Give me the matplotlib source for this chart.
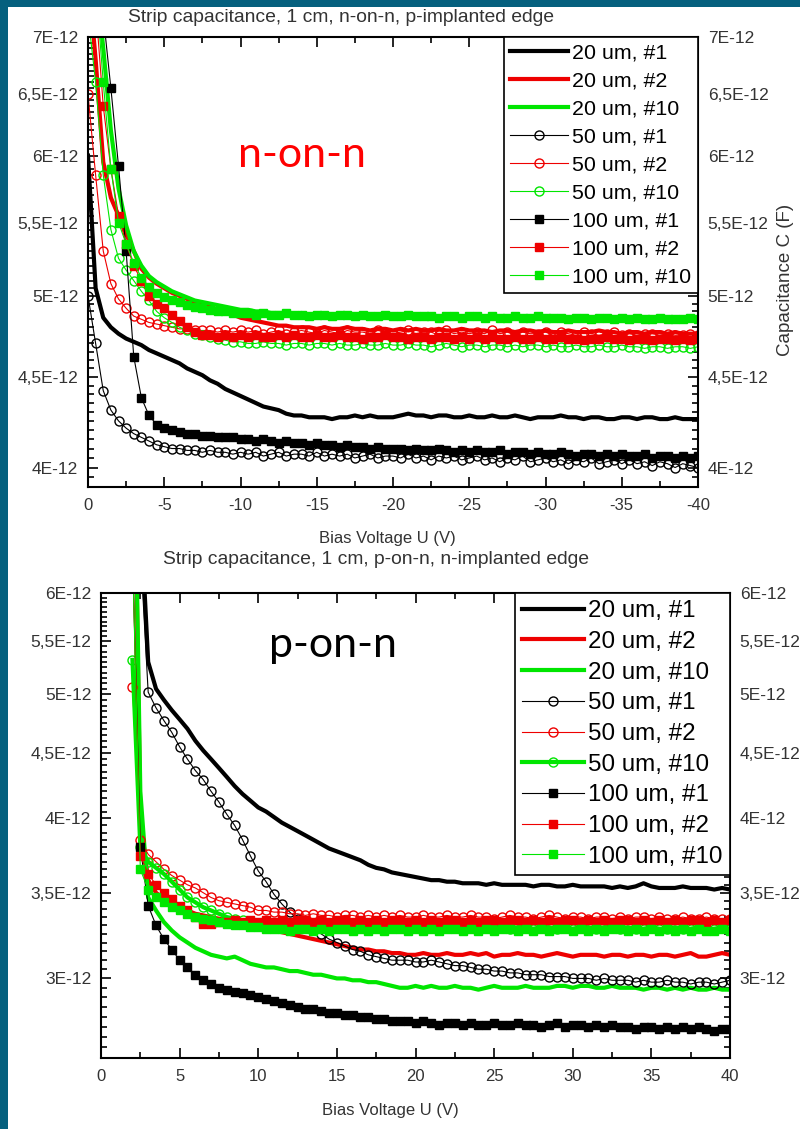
import numpy as np
import matplotlib.pyplot as plt
from matplotlib.patches import Rectangle
from matplotlib.ticker import FixedLocator, FuncFormatter, MultipleLocator

plt.rcParams['font.family'] = ['Liberation Sans', 'DejaVu Sans']
plt.rcParams['axes.unicode_minus'] = False

# bias sweep (V), 0.5 V step
bias_nn = np.arange(0, -40.5, -0.5)
bias_pn = np.arange(2, 40.5, 0.5)

labels = ["20 um, #1", "20 um, #2", "20 um, #10",
          "50 um, #1", "50 um, #2", "50 um, #10",
          "100 um, #1", "100 um, #2", "100 um, #10"]

# n-on-n, p-implanted edge, capacitance in pF
nn_20_1 = [6.00, 5.05, 4.86, 4.80, 4.76, 4.73, 4.71, 4.69, 4.66, 4.64, 4.62,
           4.60, 4.58, 4.55, 4.53, 4.51, 4.48, 4.46, 4.43, 4.41, 4.39,
           4.37, 4.35, 4.33, 4.32, 4.31, 4.29, 4.28, 4.28, 4.27, 4.27,
           4.27, 4.26, 4.27, 4.27, 4.28, 4.27, 4.28, 4.27, 4.27, 4.27,
           4.28, 4.29, 4.28, 4.28, 4.27, 4.28, 4.28, 4.27, 4.27, 4.28,
           4.27, 4.27, 4.28, 4.27, 4.27, 4.28, 4.27, 4.26, 4.27, 4.27,
           4.27, 4.28, 4.27, 4.27, 4.26, 4.27, 4.27, 4.26, 4.26, 4.27,
           4.27, 4.26, 4.27, 4.27, 4.26, 4.26, 4.27, 4.26, 4.26, 4.26]
nn_20_2 = [7.60, 6.80, 5.95, 5.68, 5.55, 5.42, 5.30, 5.18, 5.12, 5.08, 5.05,
           5.02, 5.00, 4.98, 4.96, 4.95, 4.93, 4.91, 4.89, 4.88, 4.86,
           4.85, 4.84, 4.83, 4.82, 4.81, 4.81, 4.80, 4.80, 4.80, 4.79,
           4.80, 4.79, 4.79, 4.80, 4.79, 4.79, 4.78, 4.79, 4.79, 4.78,
           4.79, 4.78, 4.79, 4.78, 4.78, 4.79, 4.78, 4.78, 4.79, 4.78,
           4.78, 4.78, 4.77, 4.78, 4.78, 4.77, 4.78, 4.78, 4.77, 4.78,
           4.77, 4.77, 4.78, 4.77, 4.77, 4.77, 4.78, 4.77, 4.77, 4.76,
           4.77, 4.77, 4.76, 4.77, 4.77, 4.76, 4.77, 4.76, 4.76, 4.76]
nn_20_10 = [8.50, 7.60, 6.90, 6.20, 5.75, 5.48, 5.30, 5.20, 5.13, 5.09, 5.06,
            5.03, 5.01, 4.99, 4.97, 4.96, 4.95, 4.94, 4.93, 4.92, 4.91,
            4.91, 4.90, 4.90, 4.89, 4.89, 4.89, 4.88, 4.89, 4.88, 4.88,
            4.88, 4.88, 4.87, 4.88, 4.88, 4.87, 4.88, 4.87, 4.87, 4.88,
            4.87, 4.87, 4.88, 4.87, 4.87, 4.87, 4.86, 4.87, 4.87, 4.86,
            4.87, 4.86, 4.86, 4.87, 4.86, 4.86, 4.86, 4.87, 4.86, 4.86,
            4.86, 4.85, 4.86, 4.86, 4.85, 4.86, 4.86, 4.85, 4.85, 4.86,
            4.85, 4.85, 4.86, 4.85, 4.85, 4.85, 4.86, 4.85, 4.85, 4.85]
nn_50_1 = [5.00, 4.70, 4.42, 4.31, 4.25, 4.21, 4.18, 4.16, 4.14, 4.12, 4.11,
           4.10, 4.10, 4.09, 4.09, 4.08, 4.09, 4.08, 4.08, 4.07, 4.08,
           4.07, 4.08, 4.06, 4.07, 4.08, 4.06, 4.07, 4.07, 4.06, 4.08,
           4.06, 4.07, 4.06, 4.07, 4.05, 4.06, 4.07, 4.05, 4.06, 4.06,
           4.05, 4.07, 4.05, 4.06, 4.04, 4.06, 4.05, 4.06, 4.04, 4.05,
           4.06, 4.04, 4.05, 4.03, 4.05, 4.04, 4.06, 4.03, 4.04, 4.05,
           4.03, 4.04, 4.02, 4.04, 4.03, 4.05, 4.02, 4.03, 4.04, 4.02,
           4.04, 4.02, 4.03, 4.01, 4.03, 4.02, 4.00, 4.02, 4.01, 4.00]
nn_50_2 = [6.50, 5.85, 5.30, 5.08, 4.98, 4.92, 4.87, 4.85, 4.83, 4.82, 4.81,
           4.80, 4.79, 4.79, 4.78, 4.78, 4.78, 4.77, 4.78, 4.77, 4.78,
           4.77, 4.78, 4.76, 4.77, 4.78, 4.76, 4.77, 4.78, 4.77, 4.76,
           4.78, 4.77, 4.76, 4.78, 4.77, 4.77, 4.76, 4.78, 4.77, 4.76,
           4.77, 4.78, 4.76, 4.77, 4.77, 4.75, 4.78, 4.76, 4.77, 4.76,
           4.77, 4.76, 4.78, 4.76, 4.77, 4.75, 4.77, 4.76, 4.76, 4.77,
           4.75, 4.77, 4.76, 4.75, 4.77, 4.76, 4.75, 4.76, 4.77, 4.75,
           4.76, 4.75, 4.76, 4.76, 4.75, 4.76, 4.75, 4.75, 4.76, 4.75]
nn_50_10 = [7.20, 6.60, 5.85, 5.45, 5.25, 5.17, 5.10, 5.03, 4.97, 4.90, 4.86,
            4.83, 4.80, 4.78, 4.76, 4.75, 4.74, 4.73, 4.72, 4.71, 4.71,
            4.70, 4.70, 4.71, 4.70, 4.70, 4.69, 4.70, 4.70, 4.69, 4.70,
            4.70, 4.69, 4.70, 4.69, 4.69, 4.70, 4.69, 4.69, 4.70, 4.69,
            4.69, 4.70, 4.69, 4.69, 4.68, 4.69, 4.70, 4.69, 4.68, 4.69,
            4.69, 4.68, 4.69, 4.69, 4.68, 4.69, 4.68, 4.69, 4.69, 4.68,
            4.69, 4.68, 4.68, 4.69, 4.68, 4.68, 4.69, 4.68, 4.68, 4.69,
            4.68, 4.68, 4.67, 4.68, 4.68, 4.67, 4.68, 4.68, 4.67, 4.68]
nn_100_1 = [9.50, 8.30, 7.20, 6.55, 5.92, 5.30, 4.62, 4.38, 4.28, 4.23, 4.21,
            4.20, 4.19, 4.18, 4.18, 4.17, 4.17, 4.16, 4.16, 4.16, 4.15,
            4.15, 4.14, 4.15, 4.14, 4.13, 4.14, 4.13, 4.13, 4.12, 4.13,
            4.12, 4.12, 4.11, 4.12, 4.11, 4.11, 4.10, 4.11, 4.10, 4.10,
            4.10, 4.09, 4.10, 4.09, 4.09, 4.10, 4.09, 4.08, 4.09, 4.08,
            4.09, 4.08, 4.08, 4.09, 4.07, 4.08, 4.08, 4.07, 4.08, 4.07,
            4.07, 4.08, 4.07, 4.06, 4.07, 4.07, 4.06, 4.07, 4.06, 4.07,
            4.06, 4.06, 4.07, 4.05, 4.06, 4.06, 4.05, 4.06, 4.05, 4.06]
nn_100_2 = [8.00, 7.30, 6.40, 5.90, 5.55, 5.35, 5.20, 5.10, 5.00, 4.95, 4.92,
            4.88, 4.84, 4.80, 4.77, 4.75, 4.75, 4.74, 4.75, 4.74, 4.75,
            4.74, 4.75, 4.74, 4.74, 4.75, 4.74, 4.75, 4.74, 4.74, 4.75,
            4.74, 4.74, 4.75, 4.74, 4.74, 4.73, 4.74, 4.74, 4.75, 4.74,
            4.74, 4.73, 4.74, 4.74, 4.73, 4.74, 4.74, 4.73, 4.74, 4.73,
            4.74, 4.73, 4.74, 4.73, 4.73, 4.74, 4.73, 4.73, 4.74, 4.73,
            4.73, 4.74, 4.73, 4.73, 4.72, 4.73, 4.73, 4.74, 4.73, 4.73,
            4.72, 4.73, 4.73, 4.72, 4.73, 4.73, 4.72, 4.73, 4.72, 4.73]
nn_100_10 = [8.50, 7.50, 6.60, 5.90, 5.50, 5.35, 5.22, 5.12, 5.06, 5.02, 4.99,
             4.97, 4.96, 4.94, 4.93, 4.92, 4.91, 4.90, 4.90, 4.89, 4.89,
             4.89, 4.88, 4.89, 4.88, 4.88, 4.89, 4.88, 4.88, 4.87, 4.88,
             4.88, 4.87, 4.88, 4.88, 4.87, 4.88, 4.87, 4.87, 4.88, 4.87,
             4.87, 4.88, 4.87, 4.87, 4.87, 4.86, 4.87, 4.87, 4.86, 4.87,
             4.87, 4.86, 4.87, 4.86, 4.86, 4.87, 4.86, 4.86, 4.87, 4.86,
             4.86, 4.86, 4.85, 4.86, 4.86, 4.85, 4.86, 4.86, 4.85, 4.86,
             4.85, 4.86, 4.85, 4.85, 4.86, 4.85, 4.85, 4.85, 4.86, 4.85]

# p-on-n, n-implanted edge, capacitance in pF
pn_20_1 = [12.0, 7.00, 5.30, 5.05, 4.95, 4.86, 4.78, 4.70, 4.60,
           4.52, 4.45, 4.38, 4.31, 4.24, 4.18, 4.13, 4.08, 4.05, 4.01,
           3.97, 3.94, 3.91, 3.88, 3.85, 3.82, 3.79, 3.77, 3.75, 3.73,
           3.71, 3.68, 3.66, 3.65, 3.63, 3.62, 3.61, 3.60, 3.59, 3.58,
           3.58, 3.57, 3.57, 3.56, 3.56, 3.56, 3.55, 3.56, 3.55, 3.55,
           3.55, 3.55, 3.54, 3.55, 3.55, 3.54, 3.54, 3.55, 3.54, 3.54,
           3.54, 3.54, 3.53, 3.54, 3.53, 3.54, 3.56, 3.54, 3.53, 3.53,
           3.53, 3.54, 3.53, 3.53, 3.53, 3.52, 3.53, 3.52]
pn_20_2 = [10.0, 4.00, 3.58, 3.50, 3.46, 3.43, 3.41, 3.39, 3.37,
           3.36, 3.35, 3.34, 3.33, 3.32, 3.31, 3.30, 3.29, 3.28, 3.27,
           3.26, 3.25, 3.24, 3.23, 3.22, 3.21, 3.20, 3.19, 3.18, 3.17,
           3.16, 3.16, 3.15, 3.15, 3.14, 3.14, 3.13, 3.13, 3.14, 3.13,
           3.13, 3.14, 3.13, 3.13, 3.14, 3.13, 3.14, 3.12, 3.13, 3.13,
           3.14, 3.13, 3.13, 3.12, 3.13, 3.14, 3.13, 3.12, 3.13, 3.13,
           3.13, 3.12, 3.13, 3.13, 3.12, 3.13, 3.13, 3.12, 3.13, 3.13,
           3.12, 3.13, 3.14, 3.12, 3.12, 3.13, 3.14, 3.13]
pn_20_10 = [10.0, 4.20, 3.47, 3.39, 3.32, 3.27, 3.23, 3.20, 3.17,
            3.15, 3.13, 3.12, 3.11, 3.12, 3.10, 3.08, 3.07, 3.06, 3.06,
            3.05, 3.04, 3.04, 3.03, 3.02, 3.02, 3.01, 3.00, 3.00, 2.99,
            2.99, 2.98, 2.98, 2.97, 2.96, 2.95, 2.95, 2.96, 2.95, 2.96,
            2.95, 2.95, 2.96, 2.95, 2.95, 2.94, 2.95, 2.96, 2.95, 2.95,
            2.95, 2.96, 2.95, 2.95, 2.95, 2.96, 2.96, 2.95, 2.96, 2.96,
            2.95, 2.95, 2.96, 2.95, 2.95, 2.95, 2.94, 2.95, 2.95, 2.94,
            2.95, 2.94, 2.95, 2.94, 2.94, 2.95, 2.94, 2.94]
pn_50_1 = [9.00, 6.50, 5.02, 4.88, 4.77, 4.67, 4.55, 4.45, 4.36,
           4.29, 4.20, 4.12, 4.03, 3.95, 3.85, 3.74, 3.64, 3.57, 3.49,
           3.43, 3.38, 3.34, 3.31, 3.28, 3.25, 3.22, 3.20, 3.18, 3.16,
           3.15, 3.13, 3.12, 3.11, 3.10, 3.10, 3.10, 3.09, 3.09, 3.10,
           3.09, 3.08, 3.07, 3.07, 3.06, 3.05, 3.05, 3.04, 3.04, 3.03,
           3.03, 3.02, 3.02, 3.02, 3.01, 3.01, 3.01, 3.00, 3.00, 3.00,
           2.99, 3.00, 2.99, 2.99, 2.99, 2.98, 2.99, 2.98, 2.98, 2.99,
           2.98, 2.98, 2.97, 2.98, 2.98, 2.97, 2.98, 2.99]
pn_50_2 = [5.07, 3.85, 3.75, 3.70, 3.65, 3.61, 3.58, 3.55, 3.53,
           3.50, 3.47, 3.45, 3.44, 3.43, 3.42, 3.41, 3.39, 3.39, 3.38,
           3.38, 3.37, 3.37, 3.36, 3.37, 3.36, 3.36, 3.35, 3.36, 3.36,
           3.35, 3.36, 3.35, 3.36, 3.35, 3.36, 3.35, 3.35, 3.36, 3.35,
           3.35, 3.36, 3.35, 3.35, 3.36, 3.35, 3.35, 3.34, 3.35, 3.36,
           3.35, 3.35, 3.34, 3.35, 3.36, 3.35, 3.34, 3.35, 3.35, 3.34,
           3.35, 3.35, 3.34, 3.35, 3.34, 3.35, 3.35, 3.34, 3.35, 3.34,
           3.34, 3.35, 3.34, 3.34, 3.35, 3.34, 3.34, 3.34]
pn_50_10 = [5.32, 3.80, 3.70, 3.66, 3.62, 3.57, 3.52, 3.47, 3.44,
            3.41, 3.39, 3.37, 3.35, 3.34, 3.33, 3.32, 3.31, 3.31, 3.30,
            3.30, 3.30, 3.29, 3.30, 3.29, 3.30, 3.29, 3.29, 3.30, 3.29,
            3.29, 3.30, 3.29, 3.29, 3.29, 3.30, 3.29, 3.29, 3.28, 3.29,
            3.29, 3.29, 3.30, 3.29, 3.29, 3.28, 3.29, 3.29, 3.29, 3.28,
            3.29, 3.29, 3.28, 3.29, 3.29, 3.28, 3.29, 3.28, 3.29, 3.29,
            3.28, 3.29, 3.29, 3.28, 3.29, 3.28, 3.28, 3.29, 3.28, 3.28,
            3.29, 3.28, 3.28, 3.29, 3.28, 3.28, 3.29, 3.28]
pn_100_1 = [6.50, 3.80, 3.42, 3.30, 3.22, 3.16, 3.10, 3.06, 3.02,
            2.99, 2.97, 2.95, 2.94, 2.93, 2.92, 2.91, 2.90, 2.89, 2.88,
            2.87, 2.86, 2.85, 2.84, 2.84, 2.83, 2.82, 2.82, 2.81, 2.81,
            2.80, 2.80, 2.79, 2.79, 2.78, 2.78, 2.78, 2.77, 2.78, 2.77,
            2.76, 2.77, 2.77, 2.76, 2.77, 2.76, 2.76, 2.77, 2.76, 2.76,
            2.77, 2.76, 2.76, 2.75, 2.76, 2.77, 2.75, 2.76, 2.76, 2.75,
            2.76, 2.75, 2.76, 2.75, 2.75, 2.74, 2.75, 2.75, 2.74, 2.75,
            2.74, 2.75, 2.74, 2.75, 2.74, 2.73, 2.74, 2.74]
pn_100_2 = [6.50, 3.74, 3.62, 3.55, 3.50, 3.46, 3.42, 3.39, 3.35,
            3.31, 3.31, 3.32, 3.32, 3.33, 3.32, 3.33, 3.32, 3.33, 3.32,
            3.33, 3.32, 3.33, 3.33, 3.32, 3.33, 3.32, 3.33, 3.33, 3.32,
            3.33, 3.32, 3.33, 3.32, 3.33, 3.33, 3.32, 3.33, 3.32, 3.33,
            3.32, 3.33, 3.33, 3.32, 3.33, 3.32, 3.33, 3.33, 3.32, 3.33,
            3.33, 3.32, 3.33, 3.32, 3.33, 3.32, 3.33, 3.33, 3.32, 3.33,
            3.32, 3.33, 3.32, 3.33, 3.33, 3.32, 3.33, 3.32, 3.33, 3.32,
            3.33, 3.32, 3.33, 3.33, 3.32, 3.33, 3.32, 3.33]
pn_100_10 = [6.50, 3.65, 3.52, 3.47, 3.44, 3.41, 3.39, 3.37, 3.35,
             3.34, 3.33, 3.32, 3.31, 3.30, 3.30, 3.29, 3.29, 3.28, 3.28,
             3.28, 3.27, 3.28, 3.28, 3.27, 3.28, 3.27, 3.28, 3.28, 3.27,
             3.28, 3.27, 3.28, 3.27, 3.28, 3.28, 3.27, 3.28, 3.27, 3.28,
             3.27, 3.28, 3.28, 3.27, 3.28, 3.27, 3.28, 3.27, 3.28, 3.28,
             3.27, 3.28, 3.27, 3.28, 3.27, 3.28, 3.28, 3.27, 3.28, 3.27,
             3.28, 3.27, 3.28, 3.28, 3.27, 3.28, 3.27, 3.28, 3.27, 3.28,
             3.27, 3.28, 3.27, 3.28, 3.27, 3.27, 3.28, 3.27]

nn_series = [nn_20_1, nn_20_2, nn_20_10, nn_50_1, nn_50_2, nn_50_10,
             nn_100_1, nn_100_2, nn_100_10]
pn_series = [pn_20_1, pn_20_2, pn_20_10, pn_50_1, pn_50_2, pn_50_10,
             pn_100_1, pn_100_2, pn_100_10]

nn_ticks = [4.0, 4.5, 5.0, 5.5, 6.0, 6.5, 7.0]
pn_ticks = [3.0, 3.5, 4.0, 4.5, 5.0, 5.5, 6.0]

colors = ['black', '#ee0000', '#00e600']
TXT = '#333333'


def line_style(k, thick_idx):
    c = colors[k % 3]
    if k < 3 or k in thick_idx:
        st = dict(color=c, lw=3.0)
        if k >= 3:
            st.update(marker='o', ms=6.5, mfc='none', mec=c, mew=1.0)
        return st
    if k < 6:
        return dict(color=c, lw=0.8, marker='o', ms=6.5, mfc='none', mec=c, mew=1.0)
    return dict(color=c, lw=0.8, marker='s', ms=5.5, mfc=c, mec=c)


def cap_fmt(v, pos):
    s = f"{v * 1e12:g}".replace('.', ',')
    return s + "E-12"


def setup_axes(ax, ylo, yhi, ticks):
    ax.set_yscale('log')
    ax.set_ylim(ylo * 1e-12, yhi * 1e-12)
    ax.yaxis.set_major_locator(FixedLocator([t * 1e-12 for t in ticks]))
    minors = [round(v, 2) * 1e-12 for v in np.arange(ylo, yhi + 0.001, 0.05)]
    ax.yaxis.set_minor_locator(FixedLocator(minors))
    ax.yaxis.set_major_formatter(FuncFormatter(cap_fmt))
    ax.yaxis.set_minor_formatter(FuncFormatter(lambda v, p: ""))
    ax.xaxis.set_major_locator(MultipleLocator(5))
    ax.xaxis.set_minor_locator(MultipleLocator(2.5))
    ax.tick_params(which='both', direction='in', top=True, right=True,
                   labelright=True, width=1.2, colors='black',
                   labelcolor=TXT)
    ax.tick_params(which='major', length=7)
    ax.tick_params(which='minor', length=4)
    ax.tick_params(axis='x', pad=8, labelsize=12)
    ax.tick_params(axis='y', pad=7, labelsize=12.5)
    for sp in ax.spines.values():
        sp.set_linewidth(1.5)


def plot_panel(ax, bias, series, thick_idx, fsize, spacing, hlen):
    handles = []
    for k, vals in enumerate(series):
        h, = ax.plot(bias, np.array(vals) * 1e-12, label=labels[k],
                     **line_style(k, thick_idx))
        handles.append(h)
    leg = ax.legend(handles=handles, loc='upper right', borderaxespad=0,
                    fontsize=fsize, handlelength=hlen, handletextpad=0.2,
                    labelspacing=spacing, borderpad=0.3, fancybox=False,
                    framealpha=1, edgecolor='black')
    leg.get_frame().set_linewidth(1.2)


fig = plt.figure(figsize=(8, 11.29), dpi=100)
fig.patch.set_facecolor('#05607e')
fig.patches.append(Rectangle((8 / 800, 0), 792 / 800, 1 - 7 / 1129,
                             transform=fig.transFigure, facecolor='white',
                             edgecolor='none', zorder=-5))

ax1 = fig.add_axes([88 / 800, 1 - 487 / 1129, 610 / 800, 450 / 1129])
plot_panel(ax1, bias_nn, nn_series, [], 15.4, 0.42, 2.7)
setup_axes(ax1, 3.9, 7.0, nn_ticks)
ax1.set_xlim(0, -40)

ax2 = fig.add_axes([101 / 800, 1 - 1058 / 1129, 629 / 800, 465 / 1129])
plot_panel(ax2, bias_pn, pn_series, [5], 17.4, 0.36, 2.55)
setup_axes(ax2, 2.6, 6.0, pn_ticks)
ax2.set_xlim(0, 40)

fig.text(341 / 800, 1 - 17 / 1129, "Strip capacitance, 1 cm, n-on-n, p-implanted edge",
         ha='center', va='center', fontsize=13.9, color=TXT)
fig.text(387 / 800, 1 - 538 / 1129, "Bias Voltage U (V)",
         ha='center', va='center', fontsize=12, color=TXT)
fig.text(376 / 800, 1 - 560 / 1129, "Strip capacitance, 1 cm, p-on-n, n-implanted edge",
         ha='center', va='center', fontsize=13.9, color=TXT)
fig.text(390 / 800, 1 - 1110 / 1129, "Bias Voltage U (V)",
         ha='center', va='center', fontsize=12, color=TXT)
fig.text(785 / 800, 1 - 280 / 1129, "Capacitance C (F)", rotation=90,
         ha='center', va='center', fontsize=13.5, color=TXT)

fig.text(302 / 800, 1 - 155 / 1129, "n-on-n", ha='center', va='center',
         fontsize=31, color='#ff0000', family=['Lato', 'DejaVu Sans'])
fig.text(333 / 800, 1 - 645 / 1129, "p-on-n", ha='center', va='center',
         fontsize=31, color='black', family=['Lato', 'DejaVu Sans'])

fig.savefig('out.png', dpi=100, facecolor=fig.get_facecolor())
